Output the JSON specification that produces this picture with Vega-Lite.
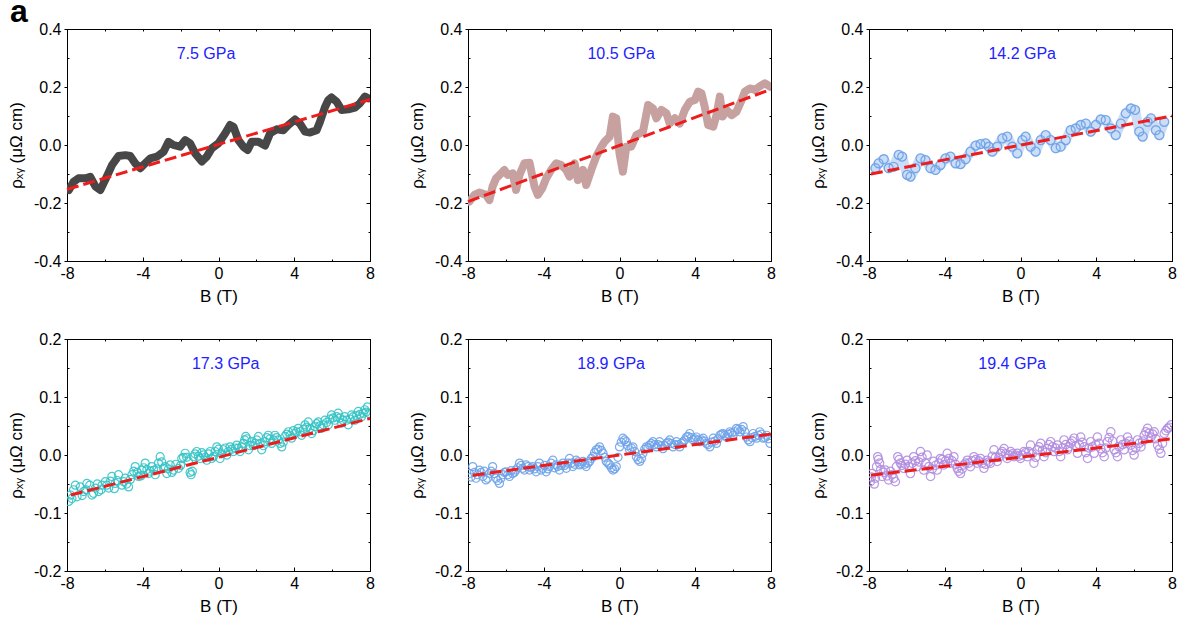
{
"$schema": "https://vega.github.io/schema/vega-lite/v6.json",
"padding": {"left": 6, "top": -5, "right": 0, "bottom": 0},
"background": "white",
"title": {"text": "a", "anchor": "start", "fontSize": 32, "fontWeight": "bold", "font": "Liberation Sans", "color": "black", "offset": -8, "dx": 3, "frame": "bounds"},
"columns": 3,
"spacing": {"row": 25, "column": 30},
"datasets": {
"p1": [{"B":-7.9,"r":-0.155},{"B":-7.65,"r":-0.127},{"B":-7.4,"r":-0.115},{"B":-7.03,"r":-0.115},{"B":-6.77,"r":-0.11},{"B":-6.5,"r":-0.143},{"B":-6.24,"r":-0.155},{"B":-5.98,"r":-0.12},{"B":-5.63,"r":-0.07},{"B":-5.28,"r":-0.038},{"B":-4.92,"r":-0.035},{"B":-4.66,"r":-0.038},{"B":-4.4,"r":-0.063},{"B":-4.13,"r":-0.08},{"B":-3.87,"r":-0.063},{"B":-3.6,"r":-0.046},{"B":-3.25,"r":-0.04},{"B":-2.9,"r":-0.023},{"B":-2.64,"r":0.011},{"B":-2.38,"r":0},{"B":-2.03,"r":-0.006},{"B":-1.76,"r":0.017},{"B":-1.5,"r":0.006},{"B":-1.23,"r":-0.029},{"B":-0.88,"r":-0.057},{"B":-0.62,"r":-0.04},{"B":-0.35,"r":-0.011},{"B":0,"r":0.006},{"B":0.35,"r":0.04},{"B":0.61,"r":0.069},{"B":0.79,"r":0.063},{"B":1.05,"r":0.017},{"B":1.31,"r":-0.006},{"B":1.54,"r":-0.017},{"B":1.75,"r":0.011},{"B":2.1,"r":0.011},{"B":2.46,"r":-0.002},{"B":2.72,"r":0.04},{"B":3.07,"r":0.054},{"B":3.42,"r":0.051},{"B":3.69,"r":0.069},{"B":4.04,"r":0.088},{"B":4.3,"r":0.074},{"B":4.57,"r":0.046},{"B":4.83,"r":0.043},{"B":5.18,"r":0.051},{"B":5.36,"r":0.08},{"B":5.62,"r":0.13},{"B":5.8,"r":0.155},{"B":5.97,"r":0.164},{"B":6.24,"r":0.149},{"B":6.5,"r":0.121},{"B":6.85,"r":0.123},{"B":7.2,"r":0.129},{"B":7.47,"r":0.144},{"B":7.73,"r":0.167},{"B":7.9,"r":0.161}],
"p2": [{"B":-7.93,"r":-0.195},{"B":-7.66,"r":-0.172},{"B":-7.4,"r":-0.164},{"B":-7.05,"r":-0.172},{"B":-6.87,"r":-0.19},{"B":-6.7,"r":-0.143},{"B":-6.52,"r":-0.115},{"B":-6.25,"r":-0.098},{"B":-6.08,"r":-0.086},{"B":-5.9,"r":-0.103},{"B":-5.64,"r":-0.098},{"B":-5.46,"r":-0.155},{"B":-5.28,"r":-0.103},{"B":-5.02,"r":-0.063},{"B":-4.75,"r":-0.061},{"B":-4.49,"r":-0.143},{"B":-4.31,"r":-0.172},{"B":-4.08,"r":-0.149},{"B":-3.87,"r":-0.115},{"B":-3.61,"r":-0.086},{"B":-3.34,"r":-0.063},{"B":-3.08,"r":-0.069},{"B":-2.81,"r":-0.086},{"B":-2.64,"r":-0.109},{"B":-2.37,"r":-0.063},{"B":-2.2,"r":-0.121},{"B":-1.93,"r":-0.086},{"B":-1.76,"r":-0.138},{"B":-1.49,"r":-0.086},{"B":-1.23,"r":-0.04},{"B":-0.96,"r":-0.006},{"B":-0.79,"r":0.011},{"B":-0.52,"r":0.029},{"B":-0.35,"r":0.098},{"B":-0.17,"r":0.092},{"B":0,"r":-0.029},{"B":0.18,"r":-0.092},{"B":0.36,"r":-0.006},{"B":0.62,"r":-0.006},{"B":0.89,"r":0.034},{"B":1.24,"r":0.046},{"B":1.51,"r":0.138},{"B":1.77,"r":0.126},{"B":1.95,"r":0.092},{"B":2.21,"r":0.121},{"B":2.48,"r":0.109},{"B":2.65,"r":0.074},{"B":2.92,"r":0.092},{"B":3.18,"r":0.074},{"B":3.45,"r":0.121},{"B":3.71,"r":0.149},{"B":3.98,"r":0.155},{"B":4.15,"r":0.184},{"B":4.33,"r":0.178},{"B":4.5,"r":0.132},{"B":4.68,"r":0.069},{"B":4.95,"r":0.063},{"B":5.12,"r":0.103},{"B":5.3,"r":0.167},{"B":5.44,"r":0.098},{"B":5.65,"r":0.121},{"B":5.92,"r":0.103},{"B":6.18,"r":0.115},{"B":6.45,"r":0.155},{"B":6.62,"r":0.184},{"B":6.89,"r":0.195},{"B":7.15,"r":0.19},{"B":7.42,"r":0.203},{"B":7.68,"r":0.213},{"B":7.95,"r":0.201}],
"p3": [{"B":-7.66,"r":-0.08},{"B":-7.49,"r":-0.063},{"B":-7.22,"r":-0.049},{"B":-6.96,"r":-0.08},{"B":-6.7,"r":-0.075},{"B":-6.43,"r":-0.034},{"B":-6.25,"r":-0.04},{"B":-5.99,"r":-0.103},{"B":-5.81,"r":-0.109},{"B":-5.55,"r":-0.08},{"B":-5.28,"r":-0.046},{"B":-5.02,"r":-0.052},{"B":-4.75,"r":-0.08},{"B":-4.49,"r":-0.086},{"B":-4.23,"r":-0.069},{"B":-3.96,"r":-0.046},{"B":-3.7,"r":-0.04},{"B":-3.43,"r":-0.063},{"B":-3.17,"r":-0.066},{"B":-2.9,"r":-0.049},{"B":-2.64,"r":-0.023},{"B":-2.37,"r":-0.002},{"B":-2.11,"r":0.003},{"B":-1.84,"r":0.006},{"B":-1.67,"r":-0.006},{"B":-1.49,"r":-0.023},{"B":-1.23,"r":-0.006},{"B":-0.96,"r":0.023},{"B":-0.7,"r":0.029},{"B":-0.43,"r":-0.006},{"B":-0.17,"r":-0.029},{"B":0.1,"r":0.017},{"B":0.27,"r":0.029},{"B":0.54,"r":-0.006},{"B":0.8,"r":-0.023},{"B":1.07,"r":0.017},{"B":1.33,"r":0.034},{"B":1.59,"r":0.017},{"B":1.86,"r":-0.011},{"B":2.12,"r":-0.006},{"B":2.39,"r":0.017},{"B":2.65,"r":0.051},{"B":2.92,"r":0.057},{"B":3.18,"r":0.069},{"B":3.45,"r":0.074},{"B":3.71,"r":0.046},{"B":3.98,"r":0.069},{"B":4.24,"r":0.088},{"B":4.5,"r":0.086},{"B":4.77,"r":0.057},{"B":5.03,"r":0.034},{"B":5.3,"r":0.074},{"B":5.56,"r":0.109},{"B":5.83,"r":0.126},{"B":6.05,"r":0.121},{"B":6.27,"r":0.046},{"B":6.45,"r":0.029},{"B":6.71,"r":0.08},{"B":6.89,"r":0.092},{"B":7.15,"r":0.051},{"B":7.33,"r":0.034},{"B":7.59,"r":0.08}],
"p4": [{"B":-7.91,"r":-0.08},{"B":-7.82,"r":-0.069},{"B":-7.65,"r":-0.06},{"B":-7.47,"r":-0.072},{"B":-7.3,"r":-0.055},{"B":-7.12,"r":-0.063},{"B":-6.95,"r":-0.049},{"B":-6.68,"r":-0.069},{"B":-6.5,"r":-0.057},{"B":-6.33,"r":-0.063},{"B":-6.15,"r":-0.052},{"B":-5.98,"r":-0.046},{"B":-5.8,"r":-0.057},{"B":-5.63,"r":-0.037},{"B":-5.45,"r":-0.049},{"B":-5.28,"r":-0.034},{"B":-5.1,"r":-0.052},{"B":-4.92,"r":-0.04},{"B":-4.75,"r":-0.055},{"B":-4.57,"r":-0.034},{"B":-4.4,"r":-0.02},{"B":-4.22,"r":-0.037},{"B":-4.05,"r":-0.026},{"B":-3.87,"r":-0.014},{"B":-3.69,"r":-0.032},{"B":-3.52,"r":-0.02},{"B":-3.34,"r":-0.034},{"B":-3.17,"r":-0.014},{"B":-3.08,"r":-0.003},{"B":-2.9,"r":-0.023},{"B":-2.73,"r":-0.032},{"B":-2.55,"r":-0.017},{"B":-2.38,"r":-0.026},{"B":-2.11,"r":-0.023},{"B":-1.94,"r":-0.006},{"B":-1.76,"r":0.003},{"B":-1.59,"r":-0.011},{"B":-1.45,"r":-0.034},{"B":-1.32,"r":-0.003},{"B":-1.15,"r":0.006},{"B":-0.97,"r":-0.006},{"B":-0.79,"r":0},{"B":-0.62,"r":-0.009},{"B":-0.44,"r":0.006},{"B":-0.27,"r":-0.003},{"B":-0.09,"r":0.014},{"B":0.08,"r":-0.006},{"B":0.26,"r":0.009},{"B":0.44,"r":0},{"B":0.61,"r":0.014},{"B":0.79,"r":0.006},{"B":0.96,"r":0.017},{"B":1.14,"r":0.006},{"B":1.31,"r":0.02},{"B":1.44,"r":0.032},{"B":1.58,"r":0.009},{"B":1.75,"r":0.023},{"B":1.93,"r":0.02},{"B":2.11,"r":0.032},{"B":2.28,"r":0.009},{"B":2.46,"r":0.023},{"B":2.63,"r":0.034},{"B":2.81,"r":0.02},{"B":2.98,"r":0.034},{"B":3.16,"r":0.026},{"B":3.34,"r":0.014},{"B":3.51,"r":0.032},{"B":3.69,"r":0.04},{"B":3.86,"r":0.029},{"B":4.04,"r":0.037},{"B":4.21,"r":0.046},{"B":4.39,"r":0.034},{"B":4.57,"r":0.052},{"B":4.74,"r":0.057},{"B":4.92,"r":0.037},{"B":5.09,"r":0.049},{"B":5.27,"r":0.057},{"B":5.44,"r":0.046},{"B":5.62,"r":0.06},{"B":5.8,"r":0.052},{"B":5.97,"r":0.069},{"B":6.15,"r":0.06},{"B":6.32,"r":0.072},{"B":6.5,"r":0.055},{"B":6.67,"r":0.066},{"B":6.85,"r":0.052},{"B":7.03,"r":0.069},{"B":7.2,"r":0.06},{"B":7.38,"r":0.075},{"B":7.55,"r":0.066},{"B":7.73,"r":0.078},{"B":7.87,"r":0.083},{"B":7.94,"r":0.072},
{"B":-7.74,"r":-0.075},{"B":-7.56,"r":-0.052},{"B":-7.2,"r":-0.07},{"B":-7.0,"r":-0.06},{"B":-6.8,"r":-0.052},{"B":-6.6,"r":-0.066},{"B":-6.4,"r":-0.05},{"B":-6.2,"r":-0.06},{"B":-5.9,"r":-0.052},{"B":-5.7,"r":-0.045},{"B":-5.5,"r":-0.058},{"B":-5.35,"r":-0.044},{"B":-5.0,"r":-0.046},{"B":-4.85,"r":-0.05},{"B":-4.65,"r":-0.042},{"B":-4.48,"r":-0.028},{"B":-4.3,"r":-0.03},{"B":-4.1,"r":-0.036},{"B":-3.95,"r":-0.022},{"B":-3.78,"r":-0.025},{"B":-3.6,"r":-0.028},{"B":-3.42,"r":-0.026},{"B":-3.25,"r":-0.024},{"B":-3.0,"r":-0.012},{"B":-2.82,"r":-0.02},{"B":-2.64,"r":-0.024},{"B":-2.46,"r":-0.03},{"B":-2.25,"r":-0.016},{"B":-2.0,"r":-0.018},{"B":-1.85,"r":-0.004},{"B":-1.68,"r":-0.004},{"B":-1.5,"r":-0.03},{"B":-1.38,"r":-0.028},{"B":-1.24,"r":0.002},{"B":-1.06,"r":-0.002},{"B":-0.88,"r":0.004},{"B":-0.7,"r":-0.004},{"B":-0.52,"r":0.002},{"B":-0.36,"r":-0.006},{"B":-0.18,"r":0.006},{"B":0,"r":0.01},{"B":0.17,"r":0.002},{"B":0.35,"r":0.012},{"B":0.52,"r":0.006},{"B":0.7,"r":0.01},{"B":0.88,"r":0.012},{"B":1.05,"r":0.012},{"B":1.22,"r":0.014},{"B":1.38,"r":0.026},{"B":1.5,"r":0.028},{"B":1.66,"r":0.016},{"B":1.84,"r":0.016},{"B":2.02,"r":0.026},{"B":2.2,"r":0.02},{"B":2.37,"r":0.016},{"B":2.55,"r":0.03},{"B":2.72,"r":0.028},{"B":2.9,"r":0.026},{"B":3.07,"r":0.03},{"B":3.25,"r":0.02},{"B":3.42,"r":0.022},{"B":3.6,"r":0.036},{"B":3.78,"r":0.034},{"B":3.95,"r":0.042},{"B":4.12,"r":0.04},{"B":4.3,"r":0.04},{"B":4.48,"r":0.044},{"B":4.66,"r":0.048},{"B":4.83,"r":0.046},{"B":5.0,"r":0.042},{"B":5.18,"r":0.054},{"B":5.35,"r":0.05},{"B":5.53,"r":0.052},{"B":5.71,"r":0.056},{"B":5.88,"r":0.062},{"B":6.06,"r":0.064},{"B":6.24,"r":0.066},{"B":6.41,"r":0.064},{"B":6.58,"r":0.06},{"B":6.76,"r":0.06},{"B":6.94,"r":0.062},{"B":7.12,"r":0.066},{"B":7.29,"r":0.068},{"B":7.46,"r":0.07},{"B":7.64,"r":0.072},{"B":7.8,"r":0.074}],
"p5": [{"B":-7.93,"r":-0.032},{"B":-7.75,"r":-0.02},{"B":-7.58,"r":-0.04},{"B":-7.4,"r":-0.026},{"B":-7.22,"r":-0.037},{"B":-7.05,"r":-0.043},{"B":-6.87,"r":-0.032},{"B":-6.7,"r":-0.02},{"B":-6.52,"r":-0.04},{"B":-6.34,"r":-0.049},{"B":-6.17,"r":-0.034},{"B":-5.99,"r":-0.029},{"B":-5.81,"r":-0.037},{"B":-5.64,"r":-0.032},{"B":-5.46,"r":-0.026},{"B":-5.28,"r":-0.014},{"B":-5.11,"r":-0.023},{"B":-4.93,"r":-0.017},{"B":-4.75,"r":-0.026},{"B":-4.58,"r":-0.02},{"B":-4.4,"r":-0.029},{"B":-4.23,"r":-0.014},{"B":-4.05,"r":-0.023},{"B":-3.87,"r":-0.029},{"B":-3.7,"r":-0.02},{"B":-3.52,"r":-0.009},{"B":-3.34,"r":-0.017},{"B":-3.17,"r":-0.026},{"B":-2.99,"r":-0.014},{"B":-2.81,"r":-0.023},{"B":-2.64,"r":-0.006},{"B":-2.46,"r":-0.02},{"B":-2.29,"r":-0.009},{"B":-2.11,"r":-0.017},{"B":-1.93,"r":-0.011},{"B":-1.76,"r":-0.02},{"B":-1.58,"r":-0.011},{"B":-1.4,"r":-0.003},{"B":-1.23,"r":0.009},{"B":-1.05,"r":0.014},{"B":-0.87,"r":0.003},{"B":-0.7,"r":-0.011},{"B":-0.52,"r":-0.017},{"B":-0.35,"r":-0.026},{"B":-0.17,"r":-0.02},{"B":0,"r":0.014},{"B":0.18,"r":0.029},{"B":0.36,"r":0.023},{"B":0.53,"r":0.009},{"B":0.71,"r":0.014},{"B":0.89,"r":-0.003},{"B":1.07,"r":-0.011},{"B":1.24,"r":0.003},{"B":1.42,"r":0.014},{"B":1.59,"r":0.017},{"B":1.77,"r":0.023},{"B":1.95,"r":0.014},{"B":2.12,"r":0.023},{"B":2.3,"r":0.011},{"B":2.48,"r":0.02},{"B":2.65,"r":0.026},{"B":2.83,"r":0.014},{"B":3.01,"r":0.023},{"B":3.18,"r":0.014},{"B":3.36,"r":0.023},{"B":3.54,"r":0.031},{"B":3.71,"r":0.037},{"B":3.89,"r":0.026},{"B":4.06,"r":0.031},{"B":4.24,"r":0.023},{"B":4.42,"r":0.029},{"B":4.59,"r":0.02},{"B":4.77,"r":0.014},{"B":4.95,"r":0.029},{"B":5.12,"r":0.02},{"B":5.3,"r":0.034},{"B":5.47,"r":0.037},{"B":5.65,"r":0.031},{"B":5.83,"r":0.04},{"B":6.0,"r":0.034},{"B":6.18,"r":0.046},{"B":6.36,"r":0.04},{"B":6.53,"r":0.049},{"B":6.71,"r":0.031},{"B":6.89,"r":0.023},{"B":7.06,"r":0.037},{"B":7.24,"r":0.029},{"B":7.41,"r":0.04},{"B":7.59,"r":0.029},{"B":7.77,"r":0.034},{"B":7.95,"r":0.02},
{"B":-7.84,"r":-0.038},{"B":-7.66,"r":-0.03},{"B":-7.49,"r":-0.034},{"B":-7.31,"r":-0.03},{"B":-7.14,"r":-0.028},{"B":-6.96,"r":-0.04},{"B":-6.78,"r":-0.028},{"B":-6.61,"r":-0.032},{"B":-6.43,"r":-0.044},{"B":-6.26,"r":-0.04},{"B":-6.08,"r":-0.03},{"B":-5.9,"r":-0.034},{"B":-5.72,"r":-0.027},{"B":-5.55,"r":-0.03},{"B":-5.37,"r":-0.022},{"B":-5.2,"r":-0.018},{"B":-5.02,"r":-0.026},{"B":-4.84,"r":-0.02},{"B":-4.66,"r":-0.022},{"B":-4.49,"r":-0.024},{"B":-4.31,"r":-0.02},{"B":-4.14,"r":-0.026},{"B":-3.96,"r":-0.018},{"B":-3.78,"r":-0.024},{"B":-3.61,"r":-0.014},{"B":-3.43,"r":-0.022},{"B":-3.26,"r":-0.02},{"B":-3.08,"r":-0.018},{"B":-2.9,"r":-0.018},{"B":-2.72,"r":-0.014},{"B":-2.55,"r":-0.014},{"B":-2.37,"r":-0.016},{"B":-2.2,"r":-0.012},{"B":-2.02,"r":-0.015},{"B":-1.84,"r":-0.016},{"B":-1.67,"r":-0.014},{"B":-1.49,"r":-0.006},{"B":-1.32,"r":0.004},{"B":-1.14,"r":0.01},{"B":-0.96,"r":0.008},{"B":-0.78,"r":-0.004},{"B":-0.61,"r":-0.014},{"B":-0.43,"r":-0.022},{"B":-0.26,"r":-0.024},{"B":-0.08,"r":-0.004},{"B":0.09,"r":0.022},{"B":0.27,"r":0.026},{"B":0.44,"r":0.016},{"B":0.62,"r":0.012},{"B":0.8,"r":0.006},{"B":0.98,"r":-0.008},{"B":1.16,"r":-0.006},{"B":1.33,"r":0.01},{"B":1.5,"r":0.012},{"B":1.68,"r":0.02},{"B":1.86,"r":0.018},{"B":2.04,"r":0.018},{"B":2.21,"r":0.016},{"B":2.39,"r":0.016},{"B":2.56,"r":0.022},{"B":2.74,"r":0.02},{"B":2.92,"r":0.018},{"B":3.1,"r":0.018},{"B":3.27,"r":0.02},{"B":3.45,"r":0.026},{"B":3.62,"r":0.032},{"B":3.8,"r":0.03},{"B":3.98,"r":0.028},{"B":4.15,"r":0.026},{"B":4.33,"r":0.026},{"B":4.5,"r":0.024},{"B":4.68,"r":0.018},{"B":4.86,"r":0.022},{"B":5.04,"r":0.024},{"B":5.21,"r":0.028},{"B":5.39,"r":0.036},{"B":5.56,"r":0.034},{"B":5.74,"r":0.036},{"B":5.92,"r":0.038},{"B":6.09,"r":0.04},{"B":6.27,"r":0.044},{"B":6.45,"r":0.044},{"B":6.62,"r":0.04},{"B":6.8,"r":0.026},{"B":6.98,"r":0.03},{"B":7.15,"r":0.032},{"B":7.33,"r":0.034},{"B":7.5,"r":0.036},{"B":7.68,"r":0.03},{"B":7.86,"r":0.028}],
"p6": [{"B":-7.93,"r":-0.046},{"B":-7.84,"r":-0.032},{"B":-7.66,"r":-0.04},{"B":-7.54,"r":-0.003},{"B":-7.44,"r":-0.014},{"B":-7.31,"r":-0.037},{"B":-7.14,"r":-0.026},{"B":-6.96,"r":-0.043},{"B":-6.78,"r":-0.034},{"B":-6.61,"r":-0.046},{"B":-6.48,"r":-0.003},{"B":-6.34,"r":-0.014},{"B":-6.17,"r":-0.023},{"B":-5.99,"r":-0.009},{"B":-5.81,"r":-0.032},{"B":-5.64,"r":-0.003},{"B":-5.46,"r":-0.02},{"B":-5.28,"r":0.006},{"B":-5.11,"r":-0.026},{"B":-4.93,"r":0},{"B":-4.75,"r":-0.037},{"B":-4.58,"r":-0.011},{"B":-4.4,"r":-0.026},{"B":-4.23,"r":-0.006},{"B":-4.05,"r":-0.017},{"B":-3.87,"r":0.003},{"B":-3.7,"r":-0.014},{"B":-3.52,"r":-0.003},{"B":-3.34,"r":-0.023},{"B":-3.17,"r":-0.032},{"B":-2.99,"r":-0.017},{"B":-2.81,"r":-0.009},{"B":-2.64,"r":-0.02},{"B":-2.46,"r":-0.003},{"B":-2.29,"r":-0.014},{"B":-2.11,"r":-0.006},{"B":-1.93,"r":-0.023},{"B":-1.76,"r":-0.009},{"B":-1.58,"r":-0.014},{"B":-1.4,"r":0.009},{"B":-1.23,"r":-0.011},{"B":-1.05,"r":0.003},{"B":-0.87,"r":0.011},{"B":-0.7,"r":-0.006},{"B":-0.52,"r":0.006},{"B":-0.35,"r":-0.003},{"B":-0.17,"r":0.003},{"B":0,"r":-0.006},{"B":0.18,"r":0.006},{"B":0.36,"r":-0.003},{"B":0.53,"r":0.017},{"B":0.71,"r":-0.014},{"B":0.89,"r":0.009},{"B":1.07,"r":0.02},{"B":1.24,"r":-0.003},{"B":1.42,"r":0.011},{"B":1.59,"r":0.023},{"B":1.77,"r":0.006},{"B":1.95,"r":0.017},{"B":2.12,"r":-0.003},{"B":2.3,"r":0.026},{"B":2.48,"r":0.009},{"B":2.65,"r":0.02},{"B":2.83,"r":0.029},{"B":3.01,"r":0.003},{"B":3.18,"r":0.031},{"B":3.36,"r":0.014},{"B":3.54,"r":-0.006},{"B":3.71,"r":0.023},{"B":3.89,"r":0.003},{"B":4.06,"r":0.031},{"B":4.24,"r":0.011},{"B":4.42,"r":-0.003},{"B":4.59,"r":0.023},{"B":4.77,"r":0.04},{"B":4.95,"r":0.009},{"B":5.12,"r":-0.003},{"B":5.3,"r":0.026},{"B":5.47,"r":0.009},{"B":5.65,"r":0.031},{"B":5.83,"r":0.017},{"B":6.0,"r":0},{"B":6.18,"r":0.026},{"B":6.36,"r":0.014},{"B":6.53,"r":0.034},{"B":6.71,"r":0.046},{"B":6.89,"r":0.031},{"B":7.06,"r":0.04},{"B":7.24,"r":0.017},{"B":7.41,"r":0.003},{"B":7.59,"r":0.037},{"B":7.77,"r":0.046},{"B":7.95,"r":0.052},
{"B":-7.88,"r":-0.038},{"B":-7.72,"r":-0.05},{"B":-7.6,"r":-0.02},{"B":-7.5,"r":-0.008},{"B":-7.38,"r":-0.025},{"B":-7.22,"r":-0.03},{"B":-7.05,"r":-0.036},{"B":-6.87,"r":-0.028},{"B":-6.7,"r":-0.04},{"B":-6.55,"r":-0.02},{"B":-6.41,"r":-0.008},{"B":-6.26,"r":-0.018},{"B":-6.08,"r":-0.016},{"B":-5.9,"r":-0.02},{"B":-5.72,"r":-0.014},{"B":-5.55,"r":-0.01},{"B":-5.37,"r":-0.012},{"B":-5.2,"r":-0.004},{"B":-5.02,"r":-0.014},{"B":-4.84,"r":-0.02},{"B":-4.66,"r":-0.024},{"B":-4.49,"r":-0.018},{"B":-4.31,"r":-0.014},{"B":-4.14,"r":-0.008},{"B":-3.96,"r":-0.01},{"B":-3.78,"r":-0.006},{"B":-3.61,"r":-0.01},{"B":-3.43,"r":-0.016},{"B":-3.26,"r":-0.028},{"B":-3.08,"r":-0.024},{"B":-2.9,"r":-0.014},{"B":-2.72,"r":-0.014},{"B":-2.55,"r":-0.01},{"B":-2.37,"r":-0.008},{"B":-2.2,"r":-0.01},{"B":-2.02,"r":-0.014},{"B":-1.84,"r":-0.016},{"B":-1.67,"r":-0.012},{"B":-1.49,"r":-0.002},{"B":-1.32,"r":-0.004},{"B":-1.14,"r":-0.004},{"B":-0.96,"r":0.006},{"B":-0.78,"r":0.002},{"B":-0.61,"r":0.0},{"B":-0.43,"r":0.002},{"B":-0.26,"r":0.0},{"B":-0.08,"r":-0.002},{"B":0.09,"r":0.0},{"B":0.27,"r":0.004},{"B":0.44,"r":0.006},{"B":0.62,"r":0.002},{"B":0.8,"r":-0.004},{"B":0.98,"r":0.014},{"B":1.16,"r":0.008},{"B":1.33,"r":0.004},{"B":1.5,"r":0.018},{"B":1.68,"r":0.014},{"B":1.86,"r":0.012},{"B":2.04,"r":0.006},{"B":2.21,"r":0.012},{"B":2.39,"r":0.018},{"B":2.56,"r":0.014},{"B":2.74,"r":0.024},{"B":2.92,"r":0.016},{"B":3.1,"r":0.018},{"B":3.27,"r":0.022},{"B":3.45,"r":0.004},{"B":3.62,"r":0.012},{"B":3.8,"r":0.014},{"B":3.98,"r":0.018},{"B":4.15,"r":0.02},{"B":4.33,"r":0.004},{"B":4.5,"r":0.012},{"B":4.68,"r":0.03},{"B":4.86,"r":0.024},{"B":5.04,"r":0.004},{"B":5.21,"r":0.014},{"B":5.39,"r":0.018},{"B":5.56,"r":0.02},{"B":5.74,"r":0.024},{"B":5.92,"r":0.008},{"B":6.09,"r":0.012},{"B":6.27,"r":0.02},{"B":6.45,"r":0.024},{"B":6.62,"r":0.04},{"B":6.8,"r":0.038},{"B":6.98,"r":0.036},{"B":7.15,"r":0.028},{"B":7.33,"r":0.01},{"B":7.5,"r":0.02},{"B":7.68,"r":0.042},{"B":7.86,"r":0.048}],
"fit": [{"p":1,"B":-8,"r":-0.153},{"p":1,"B":8,"r":0.157},{"p":2,"B":-8,"r":-0.195},{"p":2,"B":8,"r":0.192},{"p":3,"B":-7.9,"r":-0.1},{"p":3,"B":8,"r":0.1},{"p":4,"B":-7.8,"r":-0.069},{"p":4,"B":8,"r":0.063},{"p":5,"B":-7.75,"r":-0.035},{"p":5,"B":8,"r":0.036},{"p":6,"B":-7.9,"r":-0.035},{"p":6,"B":8,"r":0.028}],
"lab": [{"p":1,"B":-0.66,"r":0.314,"t":"7.5 GPa"},{"p":2,"B":0.09,"r":0.314,"t":"10.5 GPa"},{"p":3,"B":0.09,"r":0.314,"t":"14.2 GPa"},{"p":4,"B":0.38,"r":0.157,"t":"17.3 GPa"},{"p":5,"B":-0.44,"r":0.157,"t":"18.9 GPa"},{"p":6,"B":-0.44,"r":0.157,"t":"19.4 GPa"}]
},
"concat": [
{"width": 303, "height": 232, "resolve": {"axis": {"x": "independent", "y": "independent"}},
 "layer": [
  {"data": {"name": "p1"}, "mark": {"type": "line", "color": "#474747", "strokeWidth": 8, "strokeJoin": "round", "strokeCap": "round", "clip": true},
   "encoding": {"x": {"field": "B", "type": "quantitative", "scale": {"domain": [-8, 8], "nice": false, "zero": false},
     "axis": {"orient": "bottom", "values": [-8,-6,-4,-2,0,2,4,6,8], "labelExpr": "datum.value % 4 == 0 ? (datum.value < 0 ? '-' : '') + abs(datum.value) : ''", "tickSize": {"condition": {"test": "datum.value % 4 == 0", "value": -4}, "value": -2}, "title": "B (T)"}},
    "y": {"field": "r", "type": "quantitative", "scale": {"domain": [-0.4, 0.4], "nice": false, "zero": false},
     "axis": {"orient": "left", "values": [-0.4,-0.3,-0.2,-0.1,0,0.1,0.2,0.3,0.4], "labelExpr": "abs(round(datum.value*10)) % 2 == 0 ? (datum.value < 0 ? '-' : '') + format(abs(datum.value), '.1f') : ''", "tickSize": {"condition": {"test": "abs(round(datum.value*10)) % 2 == 0", "value": 3}, "value": -2}, "title": "ρₓᵧ (μΩ cm)"}}}},
  {"data": {"name": "fit"}, "transform": [{"filter": "datum.p == 1"}], "mark": {"type": "line", "color": "#ee1c1c", "strokeWidth": 3, "strokeDash": [12, 5]},
   "encoding": {"x": {"field": "B", "type": "quantitative", "axis": {"orient": "top", "values": [-8,-6,-4,-2,0,2,4,6,8], "labels": false, "title": null, "tickSize": -2}},
    "y": {"field": "r", "type": "quantitative", "axis": {"orient": "right", "values": [-0.4,-0.3,-0.2,-0.1,0,0.1,0.2,0.3,0.4], "labels": false, "title": null, "tickSize": {"condition": {"test": "abs(round(datum.value*10)) % 2 == 0", "value": -4}, "value": -2}}}}},
  {"data": {"name": "lab"}, "transform": [{"filter": "datum.p == 1"}], "mark": {"type": "text", "color": "#2222ff", "fontSize": 16, "font": "Liberation Sans"},
   "encoding": {"x": {"field": "B", "type": "quantitative", "axis": null}, "y": {"field": "r", "type": "quantitative", "axis": null}, "text": {"field": "t"}}}
 ]},
{"width": 303, "height": 232, "resolve": {"axis": {"x": "independent", "y": "independent"}},
 "layer": [
  {"data": {"name": "p2"}, "mark": {"type": "line", "color": "#c6a19f", "strokeWidth": 8, "strokeJoin": "round", "strokeCap": "round", "clip": true},
   "encoding": {"x": {"field": "B", "type": "quantitative", "scale": {"domain": [-8, 8], "nice": false, "zero": false},
     "axis": {"orient": "bottom", "values": [-8,-6,-4,-2,0,2,4,6,8], "labelExpr": "datum.value % 4 == 0 ? (datum.value < 0 ? '-' : '') + abs(datum.value) : ''", "tickSize": {"condition": {"test": "datum.value % 4 == 0", "value": -4}, "value": -2}, "title": "B (T)"}},
    "y": {"field": "r", "type": "quantitative", "scale": {"domain": [-0.4, 0.4], "nice": false, "zero": false},
     "axis": {"orient": "left", "values": [-0.4,-0.3,-0.2,-0.1,0,0.1,0.2,0.3,0.4], "labelExpr": "abs(round(datum.value*10)) % 2 == 0 ? (datum.value < 0 ? '-' : '') + format(abs(datum.value), '.1f') : ''", "tickSize": {"condition": {"test": "abs(round(datum.value*10)) % 2 == 0", "value": 3}, "value": -2}, "title": "ρₓᵧ (μΩ cm)"}}}},
  {"data": {"name": "fit"}, "transform": [{"filter": "datum.p == 2"}], "mark": {"type": "line", "color": "#ee1c1c", "strokeWidth": 3, "strokeDash": [12, 5]},
   "encoding": {"x": {"field": "B", "type": "quantitative", "axis": {"orient": "top", "values": [-8,-6,-4,-2,0,2,4,6,8], "labels": false, "title": null, "tickSize": -2}},
    "y": {"field": "r", "type": "quantitative", "axis": {"orient": "right", "values": [-0.4,-0.3,-0.2,-0.1,0,0.1,0.2,0.3,0.4], "labels": false, "title": null, "tickSize": {"condition": {"test": "abs(round(datum.value*10)) % 2 == 0", "value": -4}, "value": -2}}}}},
  {"data": {"name": "lab"}, "transform": [{"filter": "datum.p == 2"}], "mark": {"type": "text", "color": "#2222ff", "fontSize": 16, "font": "Liberation Sans"},
   "encoding": {"x": {"field": "B", "type": "quantitative", "axis": null}, "y": {"field": "r", "type": "quantitative", "axis": null}, "text": {"field": "t"}}}
 ]},
{"width": 303, "height": 232, "resolve": {"axis": {"x": "independent", "y": "independent"}},
 "layer": [
  {"data": {"name": "p3"}, "mark": {"type": "line", "color": "#6ca1e8", "strokeWidth": 10, "opacity": 0.35, "strokeJoin": "round", "strokeCap": "round", "clip": true},
   "encoding": {"x": {"field": "B", "type": "quantitative", "scale": {"domain": [-8, 8], "nice": false, "zero": false},
     "axis": {"orient": "bottom", "values": [-8,-6,-4,-2,0,2,4,6,8], "labelExpr": "datum.value % 4 == 0 ? (datum.value < 0 ? '-' : '') + abs(datum.value) : ''", "tickSize": {"condition": {"test": "datum.value % 4 == 0", "value": -4}, "value": -2}, "title": "B (T)"}},
    "y": {"field": "r", "type": "quantitative", "scale": {"domain": [-0.4, 0.4], "nice": false, "zero": false},
     "axis": {"orient": "left", "values": [-0.4,-0.3,-0.2,-0.1,0,0.1,0.2,0.3,0.4], "labelExpr": "abs(round(datum.value*10)) % 2 == 0 ? (datum.value < 0 ? '-' : '') + format(abs(datum.value), '.1f') : ''", "tickSize": {"condition": {"test": "abs(round(datum.value*10)) % 2 == 0", "value": 3}, "value": -2}, "title": "ρₓᵧ (μΩ cm)"}}}},
  {"data": {"name": "p3"}, "mark": {"type": "point", "shape": "circle", "filled": false, "size": 80, "strokeWidth": 1.3, "color": "#6ca1e8", "opacity": 0.9, "clip": true},
   "encoding": {"x": {"field": "B", "type": "quantitative", "axis": null}, "y": {"field": "r", "type": "quantitative", "axis": null}}},
  {"data": {"name": "fit"}, "transform": [{"filter": "datum.p == 3"}], "mark": {"type": "line", "color": "#ee1c1c", "strokeWidth": 3, "strokeDash": [12, 5]},
   "encoding": {"x": {"field": "B", "type": "quantitative", "axis": {"orient": "top", "values": [-8,-6,-4,-2,0,2,4,6,8], "labels": false, "title": null, "tickSize": -2}},
    "y": {"field": "r", "type": "quantitative", "axis": {"orient": "right", "values": [-0.4,-0.3,-0.2,-0.1,0,0.1,0.2,0.3,0.4], "labels": false, "title": null, "tickSize": {"condition": {"test": "abs(round(datum.value*10)) % 2 == 0", "value": -4}, "value": -2}}}}},
  {"data": {"name": "lab"}, "transform": [{"filter": "datum.p == 3"}], "mark": {"type": "text", "color": "#2222ff", "fontSize": 16, "font": "Liberation Sans"},
   "encoding": {"x": {"field": "B", "type": "quantitative", "axis": null}, "y": {"field": "r", "type": "quantitative", "axis": null}, "text": {"field": "t"}}}
 ]},
{"width": 303, "height": 232, "resolve": {"axis": {"x": "independent", "y": "independent"}},
 "layer": [
  {"data": {"name": "p4"}, "mark": {"type": "point", "shape": "circle", "filled": false, "size": 65, "strokeWidth": 1.2, "color": "#36c4c6", "opacity": 0.9, "clip": true},
   "encoding": {"x": {"field": "B", "type": "quantitative", "scale": {"domain": [-8, 8], "nice": false, "zero": false},
     "axis": {"orient": "bottom", "values": [-8,-6,-4,-2,0,2,4,6,8], "labelExpr": "datum.value % 4 == 0 ? (datum.value < 0 ? '-' : '') + abs(datum.value) : ''", "tickSize": {"condition": {"test": "datum.value % 4 == 0", "value": -4}, "value": -2}, "title": "B (T)"}},
    "y": {"field": "r", "type": "quantitative", "scale": {"domain": [-0.2, 0.2], "nice": false, "zero": false},
     "axis": {"orient": "left", "values": [-0.2,-0.15,-0.1,-0.05,0,0.05,0.1,0.15,0.2], "labelExpr": "abs(round(datum.value*20)) % 2 == 0 ? (datum.value < 0 ? '-' : '') + format(abs(datum.value), '.1f') : ''", "tickSize": {"condition": {"test": "abs(round(datum.value*20)) % 2 == 0", "value": 3}, "value": -2}, "title": "ρₓᵧ (μΩ cm)"}}}},
  {"data": {"name": "fit"}, "transform": [{"filter": "datum.p == 4"}], "mark": {"type": "line", "color": "#ee1c1c", "strokeWidth": 3, "strokeDash": [12, 5]},
   "encoding": {"x": {"field": "B", "type": "quantitative", "axis": {"orient": "top", "values": [-8,-6,-4,-2,0,2,4,6,8], "labels": false, "title": null, "tickSize": -2}},
    "y": {"field": "r", "type": "quantitative", "axis": {"orient": "right", "values": [-0.2,-0.15,-0.1,-0.05,0,0.05,0.1,0.15,0.2], "labels": false, "title": null, "tickSize": {"condition": {"test": "abs(round(datum.value*20)) % 2 == 0", "value": -4}, "value": -2}}}}},
  {"data": {"name": "lab"}, "transform": [{"filter": "datum.p == 4"}], "mark": {"type": "text", "color": "#2222ff", "fontSize": 16, "font": "Liberation Sans"},
   "encoding": {"x": {"field": "B", "type": "quantitative", "axis": null}, "y": {"field": "r", "type": "quantitative", "axis": null}, "text": {"field": "t"}}}
 ]},
{"width": 303, "height": 232, "resolve": {"axis": {"x": "independent", "y": "independent"}},
 "layer": [
  {"data": {"name": "p5"}, "mark": {"type": "point", "shape": "circle", "filled": false, "size": 65, "strokeWidth": 1.2, "color": "#6fa3ea", "opacity": 0.9, "clip": true},
   "encoding": {"x": {"field": "B", "type": "quantitative", "scale": {"domain": [-8, 8], "nice": false, "zero": false},
     "axis": {"orient": "bottom", "values": [-8,-6,-4,-2,0,2,4,6,8], "labelExpr": "datum.value % 4 == 0 ? (datum.value < 0 ? '-' : '') + abs(datum.value) : ''", "tickSize": {"condition": {"test": "datum.value % 4 == 0", "value": -4}, "value": -2}, "title": "B (T)"}},
    "y": {"field": "r", "type": "quantitative", "scale": {"domain": [-0.2, 0.2], "nice": false, "zero": false},
     "axis": {"orient": "left", "values": [-0.2,-0.15,-0.1,-0.05,0,0.05,0.1,0.15,0.2], "labelExpr": "abs(round(datum.value*20)) % 2 == 0 ? (datum.value < 0 ? '-' : '') + format(abs(datum.value), '.1f') : ''", "tickSize": {"condition": {"test": "abs(round(datum.value*20)) % 2 == 0", "value": 3}, "value": -2}, "title": "ρₓᵧ (μΩ cm)"}}}},
  {"data": {"name": "fit"}, "transform": [{"filter": "datum.p == 5"}], "mark": {"type": "line", "color": "#ee1c1c", "strokeWidth": 3, "strokeDash": [12, 5]},
   "encoding": {"x": {"field": "B", "type": "quantitative", "axis": {"orient": "top", "values": [-8,-6,-4,-2,0,2,4,6,8], "labels": false, "title": null, "tickSize": -2}},
    "y": {"field": "r", "type": "quantitative", "axis": {"orient": "right", "values": [-0.2,-0.15,-0.1,-0.05,0,0.05,0.1,0.15,0.2], "labels": false, "title": null, "tickSize": {"condition": {"test": "abs(round(datum.value*20)) % 2 == 0", "value": -4}, "value": -2}}}}},
  {"data": {"name": "lab"}, "transform": [{"filter": "datum.p == 5"}], "mark": {"type": "text", "color": "#2222ff", "fontSize": 16, "font": "Liberation Sans"},
   "encoding": {"x": {"field": "B", "type": "quantitative", "axis": null}, "y": {"field": "r", "type": "quantitative", "axis": null}, "text": {"field": "t"}}}
 ]},
{"width": 303, "height": 232, "resolve": {"axis": {"x": "independent", "y": "independent"}},
 "layer": [
  {"data": {"name": "p6"}, "mark": {"type": "point", "shape": "circle", "filled": false, "size": 70, "strokeWidth": 1.2, "color": "#b28ee0", "opacity": 0.9, "clip": true},
   "encoding": {"x": {"field": "B", "type": "quantitative", "scale": {"domain": [-8, 8], "nice": false, "zero": false},
     "axis": {"orient": "bottom", "values": [-8,-6,-4,-2,0,2,4,6,8], "labelExpr": "datum.value % 4 == 0 ? (datum.value < 0 ? '-' : '') + abs(datum.value) : ''", "tickSize": {"condition": {"test": "datum.value % 4 == 0", "value": -4}, "value": -2}, "title": "B (T)"}},
    "y": {"field": "r", "type": "quantitative", "scale": {"domain": [-0.2, 0.2], "nice": false, "zero": false},
     "axis": {"orient": "left", "values": [-0.2,-0.15,-0.1,-0.05,0,0.05,0.1,0.15,0.2], "labelExpr": "abs(round(datum.value*20)) % 2 == 0 ? (datum.value < 0 ? '-' : '') + format(abs(datum.value), '.1f') : ''", "tickSize": {"condition": {"test": "abs(round(datum.value*20)) % 2 == 0", "value": 3}, "value": -2}, "title": "ρₓᵧ (μΩ cm)"}}}},
  {"data": {"name": "fit"}, "transform": [{"filter": "datum.p == 6"}], "mark": {"type": "line", "color": "#ee1c1c", "strokeWidth": 3, "strokeDash": [12, 5]},
   "encoding": {"x": {"field": "B", "type": "quantitative", "axis": {"orient": "top", "values": [-8,-6,-4,-2,0,2,4,6,8], "labels": false, "title": null, "tickSize": -2}},
    "y": {"field": "r", "type": "quantitative", "axis": {"orient": "right", "values": [-0.2,-0.15,-0.1,-0.05,0,0.05,0.1,0.15,0.2], "labels": false, "title": null, "tickSize": {"condition": {"test": "abs(round(datum.value*20)) % 2 == 0", "value": -4}, "value": -2}}}}},
  {"data": {"name": "lab"}, "transform": [{"filter": "datum.p == 6"}], "mark": {"type": "text", "color": "#2222ff", "fontSize": 16, "font": "Liberation Sans"},
   "encoding": {"x": {"field": "B", "type": "quantitative", "axis": null}, "y": {"field": "r", "type": "quantitative", "axis": null}, "text": {"field": "t"}}}
 ]}
],
"config": {
 "view": {"stroke": "black", "strokeWidth": 1},
 "axis": {"grid": false, "domainColor": "black", "domainWidth": 1, "tickColor": "black", "tickWidth": 1, "labelColor": "black", "labelFont": "Liberation Sans", "labelFontSize": 16, "labelPadding": 3, "labelFlush": false, "labelOverlap": false, "titleFont": "Liberation Sans", "titleFontSize": 17, "titleFontWeight": "normal", "titleColor": "black"},
 "axisX": {"titlePadding": 5, "labelPadding": 8},
 "axisY": {"titlePadding": 8}
}
}
